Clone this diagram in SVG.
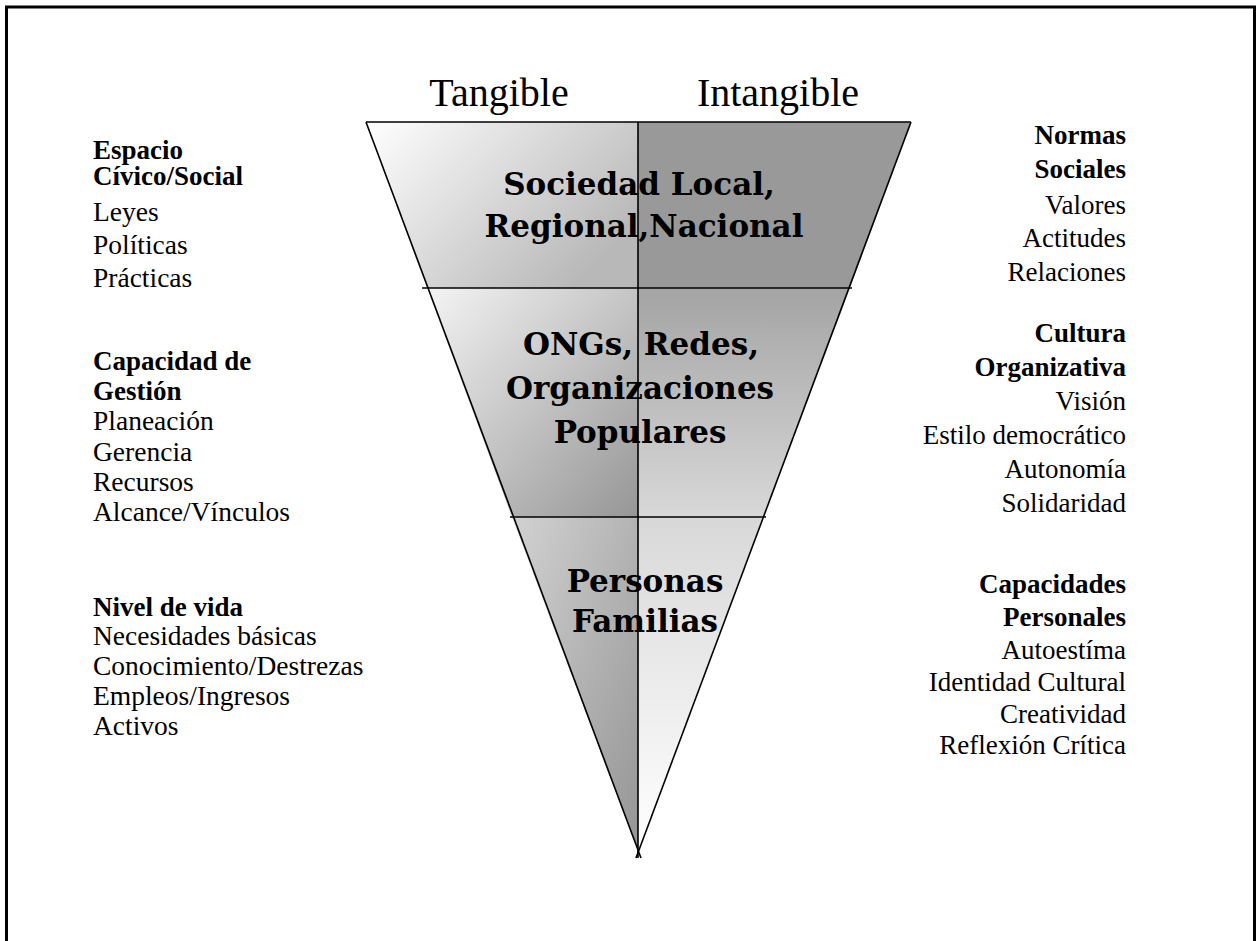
<svg xmlns="http://www.w3.org/2000/svg" width="1257" height="941" viewBox="0 0 1257 941">
  <style>
    .head { font-family: "Liberation Serif", "Times New Roman", serif; font-size: 40px; fill: #000; text-anchor: middle; }
    .band { font-family: "DejaVu Serif", "Liberation Serif", serif; font-weight: bold; font-size: 31px; fill: #000; text-anchor: middle; }
    .side { font-family: "Liberation Serif", "Times New Roman", serif; font-size: 27.5px; fill: #000; }
    .side .t { font-weight: bold; font-size: 27px; }
    .right { text-anchor: end; }
    .right .v { font-size: 27px; }
    .edge { stroke: #000; stroke-width: 1.6; fill: none; }
  </style>
  <defs>
    <linearGradient id="gTopL" x1="0" y1="0" x2="1" y2="0.6">
      <stop offset="0" stop-color="#ffffff"/>
      <stop offset="1" stop-color="#b8b8b8"/>
    </linearGradient>
    <linearGradient id="gMidL" x1="0" y1="0" x2="1" y2="1">
      <stop offset="0" stop-color="#f4f4f4"/>
      <stop offset="1" stop-color="#969696"/>
    </linearGradient>
    <linearGradient id="gMidR" x1="0" y1="0" x2="0" y2="1">
      <stop offset="0" stop-color="#a4a4a4"/>
      <stop offset="1" stop-color="#d8d8d8"/>
    </linearGradient>
    <linearGradient id="gBotL" x1="0" y1="0" x2="1" y2="1">
      <stop offset="0" stop-color="#d2d2d2"/>
      <stop offset="1" stop-color="#959595"/>
    </linearGradient>
    <linearGradient id="gBotR" x1="0" y1="0" x2="0" y2="1">
      <stop offset="0" stop-color="#d8d8d8"/>
      <stop offset="1" stop-color="#ffffff"/>
    </linearGradient>
  </defs>

  <rect width="1257" height="941" fill="#ffffff"/>
  <!-- page frame, open at the bottom -->
  <rect x="6.5" y="7" width="1248" height="1000" fill="none" stroke="#000" stroke-width="3"/>

  <!-- column headings -->
  <g id="headings">
    <text class="head" x="499" y="106">Tangible</text>
    <text class="head" x="778" y="106">Intangible</text>
  </g>

  <!-- funnel bands -->
  <g id="band-society">
    <polygon points="366,122 638,122 638,288 427,288" fill="url(#gTopL)"/>
    <polygon points="638,122 911,122 850,288 638,288" fill="#999999"/>
    <text class="band" x="639" y="195">Sociedad Local,</text>
    <text class="band" x="644" y="237">Regional,Nacional</text>
  </g>
  <g id="band-organizations">
    <polygon points="427,288 638,288 638,517 512,517" fill="url(#gMidL)"/>
    <polygon points="638,288 850,288 764,517 638,517" fill="url(#gMidR)"/>
    <text class="band" x="641" y="355">ONGs, Redes,</text>
    <text class="band" x="640" y="399">Organizaciones</text>
    <text class="band" x="640" y="443">Populares</text>
  </g>
  <g id="band-people">
    <polygon points="512,517 638,517 638,851" fill="url(#gBotL)"/>
    <polygon points="638,517 764,517 638,851" fill="url(#gBotR)"/>
    <text class="band" x="645" y="592">Personas</text>
    <text class="band" x="645" y="632">Familias</text>
  </g>

  <!-- funnel outline and dividers -->
  <g id="outline">
    <line class="edge" x1="366" y1="122" x2="911" y2="122"/>
    <line class="edge" x1="366" y1="122" x2="641" y2="858"/>
    <line class="edge" x1="911" y1="122" x2="636" y2="858"/>
    <line class="edge" x1="638" y1="122" x2="638" y2="858"/>
    <line class="edge" x1="422" y1="288" x2="852" y2="288"/>
    <line class="edge" x1="510" y1="517" x2="766" y2="517"/>
  </g>

  <!-- tangible dimensions -->
  <g id="civic-space" class="side">
    <text class="t" x="93" y="159">Espacio</text>
    <text class="t" x="93" y="185">Cívico/Social</text>
    <text x="93" y="221">Leyes</text>
    <text x="93" y="254">Políticas</text>
    <text x="93" y="287">Prácticas</text>
  </g>
  <g id="management" class="side">
    <text class="t" x="93" y="370">Capacidad de</text>
    <text class="t" x="93" y="400">Gestión</text>
    <text x="93" y="430">Planeación</text>
    <text x="93" y="461">Gerencia</text>
    <text x="93" y="491">Recursos</text>
    <text x="93" y="521">Alcance/Vínculos</text>
  </g>
  <g id="living-standard" class="side">
    <text class="t" x="93" y="616">Nivel de vida</text>
    <text x="93" y="645">Necesidades básicas</text>
    <text x="93" y="675">Conocimiento/Destrezas</text>
    <text x="93" y="705">Empleos/Ingresos</text>
    <text x="93" y="735">Activos</text>
  </g>

  <!-- intangible dimensions -->
  <g id="social-norms" class="side right">
    <text class="t" x="1126" y="144">Normas</text>
    <text class="t" x="1126" y="178">Sociales</text>
    <text class="v" x="1126" y="214">Valores</text>
    <text class="v" x="1126" y="247">Actitudes</text>
    <text class="v" x="1126" y="281">Relaciones</text>
  </g>
  <g id="org-culture" class="side right">
    <text class="t" x="1126" y="342">Cultura</text>
    <text class="t" x="1126" y="376">Organizativa</text>
    <text class="v" x="1126" y="410">Visión</text>
    <text class="v" x="1126" y="444">Estilo democrático</text>
    <text class="v" x="1126" y="478">Autonomía</text>
    <text class="v" x="1126" y="512">Solidaridad</text>
  </g>
  <g id="personal-capacities" class="side right">
    <text class="t" x="1126" y="593">Capacidades</text>
    <text class="t" x="1126" y="626">Personales</text>
    <text class="v" x="1126" y="659">Autoestíma</text>
    <text class="v" x="1126" y="691">Identidad Cultural</text>
    <text class="v" x="1126" y="723">Creatividad</text>
    <text class="v" x="1126" y="754">Reflexión Crítica</text>
  </g>
</svg>
